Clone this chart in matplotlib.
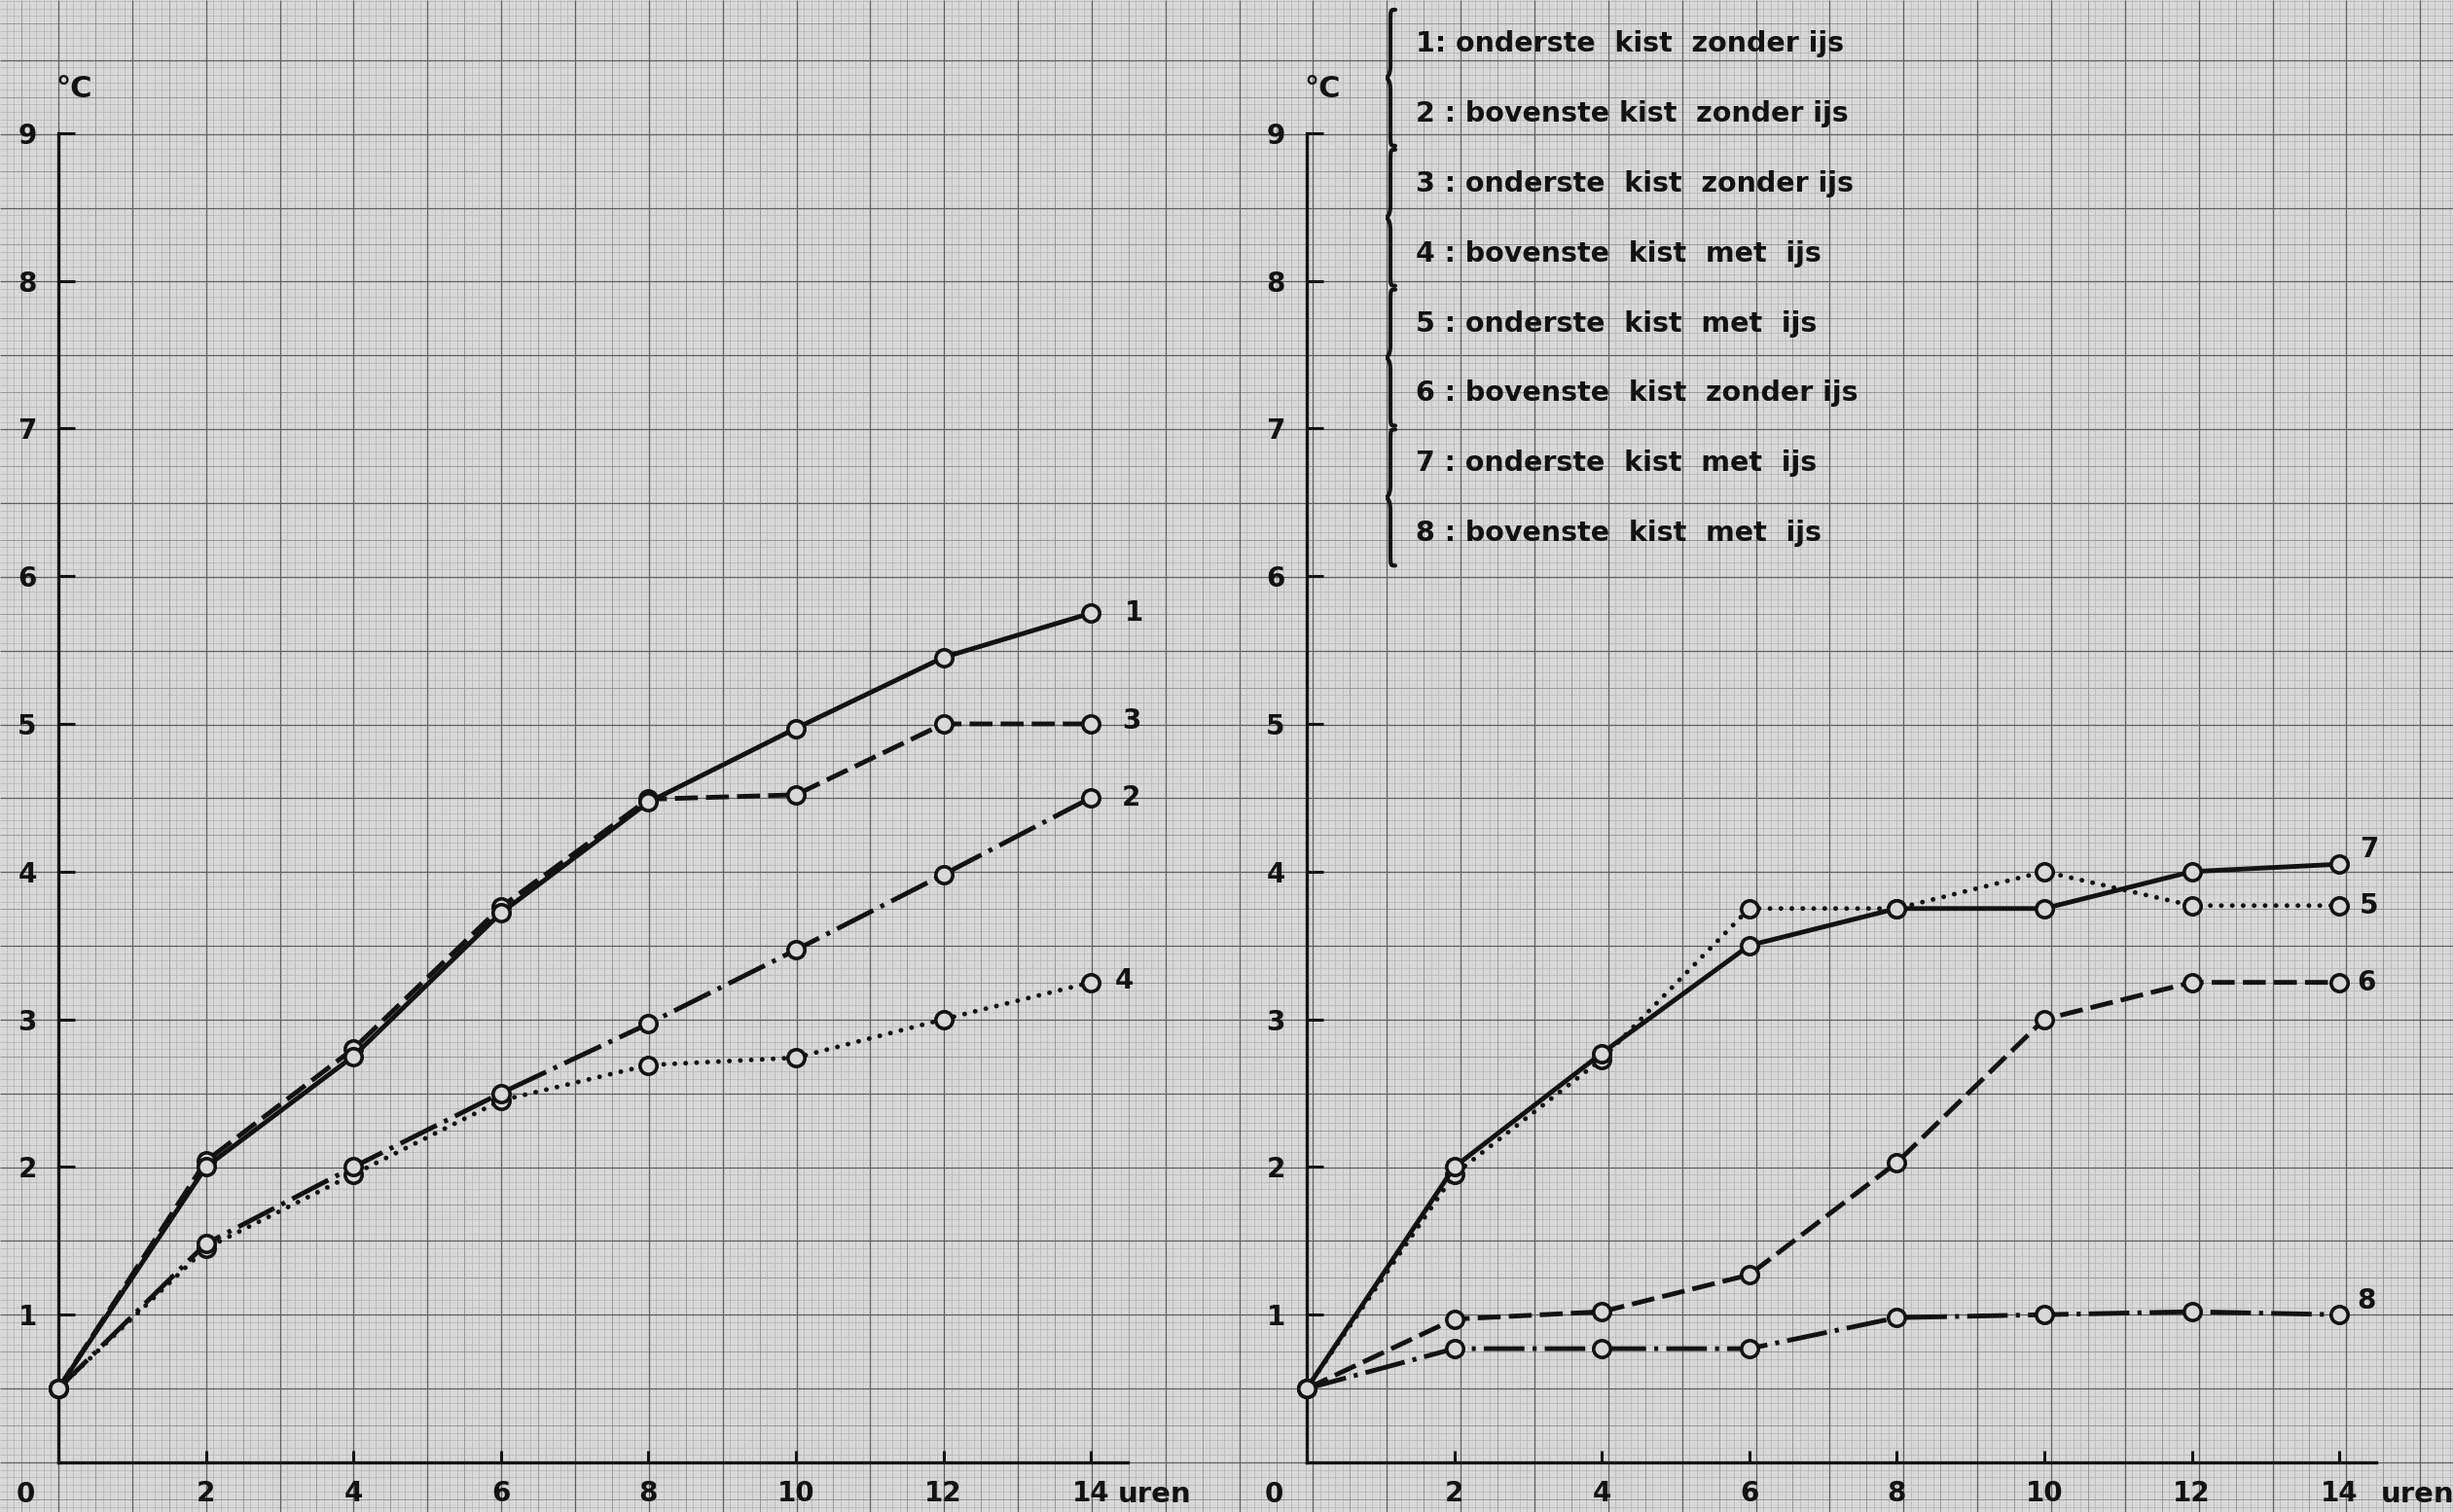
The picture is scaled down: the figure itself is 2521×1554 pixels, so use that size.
import numpy as np
import matplotlib
matplotlib.use('Agg')
import matplotlib.pyplot as plt
from matplotlib.path import Path
from matplotlib.patches import PathPatch

# ---- data (uren, graden C) ----
hours = [0, 2, 4, 6, 8, 10, 12, 14]

# linker grafiek
curve1 = [0.5, 2.0, 2.75, 3.72, 4.47, 4.97, 5.45, 5.75]
curve3 = [0.5, 2.04, 2.8, 3.76, 4.49, 4.52, 5.0, 5.0]
curve2 = [0.5, 1.48, 2.0, 2.5, 2.97, 3.47, 3.98, 4.5]
curve4 = [0.5, 1.45, 1.95, 2.45, 2.69, 2.74, 3.0, 3.25]

# rechter grafiek
curve7 = [0.5, 2.0, 2.77, 3.5, 3.75, 3.75, 4.0, 4.05]
curve5 = [0.5, 1.95, 2.73, 3.75, 3.75, 4.0, 3.77, 3.77]
curve6 = [0.5, 0.97, 1.02, 1.27, 2.03, 3.0, 3.25, 3.25]
curve8 = [0.5, 0.77, 0.77, 0.77, 0.98, 1.0, 1.02, 1.0]

x_ticks = [2, 4, 6, 8, 10, 12, 14]
y_ticks = [1, 2, 3, 4, 5, 6, 7, 8, 9]

legend_lines = [
    "1: onderste  kist  zonder ijs",
    "2 : bovenste kist  zonder ijs",
    "3 : onderste  kist  zonder ijs",
    "4 : bovenste  kist  met  ijs",
    "5 : onderste  kist  met  ijs",
    "6 : bovenste  kist  zonder ijs",
    "7 : onderste  kist  met  ijs",
    "8 : bovenste  kist  met  ijs",
]

# ---- layout (pixels) ----
W, H = 2521, 1554
PX_MM = 7.585
X0_LEFT, X0_RIGHT, Y0 = 60, 1343, 1503
PX_HOUR, PX_DEG = 75.8, 151.8

PAPER = '#d8d8d8'
INK = '#121212'

plt.rcParams['font.family'] = ['DejaVu Sans']
plt.rcParams['font.weight'] = 'bold'
plt.rcParams['lines.scale_dashes'] = False

fig = plt.figure(figsize=(W / 100, H / 100), dpi=100, facecolor=PAPER)

# millimeterpapier
bg = fig.add_axes([0, 0, 1, 1])
bg.set_xlim(0, W)
bg.set_ylim(H, 0)
bg.axis('off')
kx = np.arange(-8, 340)
ky = np.arange(-8, 210)
xs = X0_LEFT + kx * PX_MM
ys = Y0 - ky * PX_MM
for sel, col, lw in [(lambda k: k % 5 != 0, '#b4b4b4', 0.5),
                     (lambda k: (k % 5 == 0) & (k % 10 != 0), '#8c8c8c', 0.6),
                     (lambda k: k % 10 == 0, '#5e5e5e', 0.9)]:
    bg.vlines(xs[sel(kx)], 0, H, color=col, lw=lw, zorder=0)
    bg.hlines(ys[sel(ky)], 0, W, color=col, lw=lw, zorder=0)


def brace(ax, x, y0, y1, w=10, r=13):
    ym = (y0 + y1) / 2
    xm = x + w / 2
    verts = [(x + w, y0), (xm, y0), (xm, y0), (xm, y0 + r),
             (xm, ym - r),
             (xm, ym), (x, ym), (x, ym),
             (x, ym), (xm, ym), (xm, ym + r),
             (xm, y1 - r),
             (xm, y1), (xm, y1), (x + w, y1)]
    codes = [Path.MOVETO, Path.CURVE4, Path.CURVE4, Path.CURVE4,
             Path.LINETO,
             Path.CURVE4, Path.CURVE4, Path.CURVE4,
             Path.CURVE4, Path.CURVE4, Path.CURVE4,
             Path.LINETO,
             Path.CURVE4, Path.CURVE4, Path.CURVE4]
    ax.add_patch(PathPatch(Path(verts, codes), fill=False, ec=INK, lw=3.0,
                           capstyle='round', zorder=3))


# legenda
leg_y = 45 + np.arange(len(legend_lines)) * 71.9
for txt, y in zip(legend_lines, leg_y):
    bg.text(1455, y, txt, ha='left', va='center', fontsize=20.5, color=INK)
for i in range(0, len(legend_lines), 2):
    brace(bg, 1424, leg_y[i] - 35, leg_y[i + 1] + 33)


def make_axes(x0, uren_x):
    ax = fig.add_axes([x0 / W, (H - Y0) / H, 15 * PX_HOUR / W, 9.7 * PX_DEG / H])
    ax.set_xlim(0, 15)
    ax.set_ylim(0, 9.7)
    ax.patch.set_visible(False)
    for s in ['top', 'right']:
        ax.spines[s].set_visible(False)
    ax.spines['left'].set_bounds(0, 9)
    ax.spines['bottom'].set_bounds(0, 14.5)
    for s in ['left', 'bottom']:
        ax.spines[s].set_linewidth(2.4)
        ax.spines[s].set_color(INK)
    ax.set_xticks(x_ticks)
    ax.set_yticks(y_ticks)
    ax.tick_params(axis='x', direction='in', length=9, width=2.2, pad=13,
                   labelsize=20, color=INK, labelcolor=INK)
    ax.tick_params(axis='y', direction='in', length=12, width=2.2, pad=16,
                   labelsize=20, color=INK, labelcolor=INK)
    ax.annotate('0', xy=(0, 0), xytext=(-24, -24), textcoords='offset points',
                ha='center', va='center', fontsize=20, color=INK)
    ax.annotate('uren', xy=(uren_x, 0), xytext=(0, -24), textcoords='offset points',
                ha='left', va='center', fontsize=21, color=INK, annotation_clip=False)
    ax.text(-0.04, 9.3, '°C', ha='left', va='center', fontsize=22, color=INK)
    return ax


styles = {
    'solid': dict(linestyle='-'),
    'dashed': dict(dashes=(17, 6)),
    'dashdot': dict(dashes=(30, 6, 3, 6)),
    'dotted': dict(dashes=(0.1, 8), dash_capstyle='round'),
}


def draw(ax, vals, style, name, offset):
    ax.plot(hours, vals, color=INK, lw=3.5, marker='o', ms=12.5, mfc=PAPER,
            mec=INK, mew=2.6, clip_on=False, zorder=4, **styles[style])
    ax.annotate(name, xy=(hours[-1], vals[-1]), xytext=offset,
                textcoords='offset points', ha='center', va='center',
                fontsize=20, color=INK, annotation_clip=False)


ax1 = make_axes(X0_LEFT, 14.36)
draw(ax1, curve3, 'dashed', '3', (30, 2))
draw(ax1, curve1, 'solid', '1', (32, 0))
draw(ax1, curve4, 'dotted', '4', (25, 1))
draw(ax1, curve2, 'dashdot', '2', (30, 0))

ax2 = make_axes(X0_RIGHT, 14.56)
draw(ax2, curve5, 'dotted', '5', (22, 0))
draw(ax2, curve7, 'solid', '7', (22, 11))
draw(ax2, curve6, 'dashed', '6', (20, 0))
draw(ax2, curve8, 'dashdot', '8', (20, 10))

fig.savefig('out.png', dpi=100, facecolor=PAPER)
